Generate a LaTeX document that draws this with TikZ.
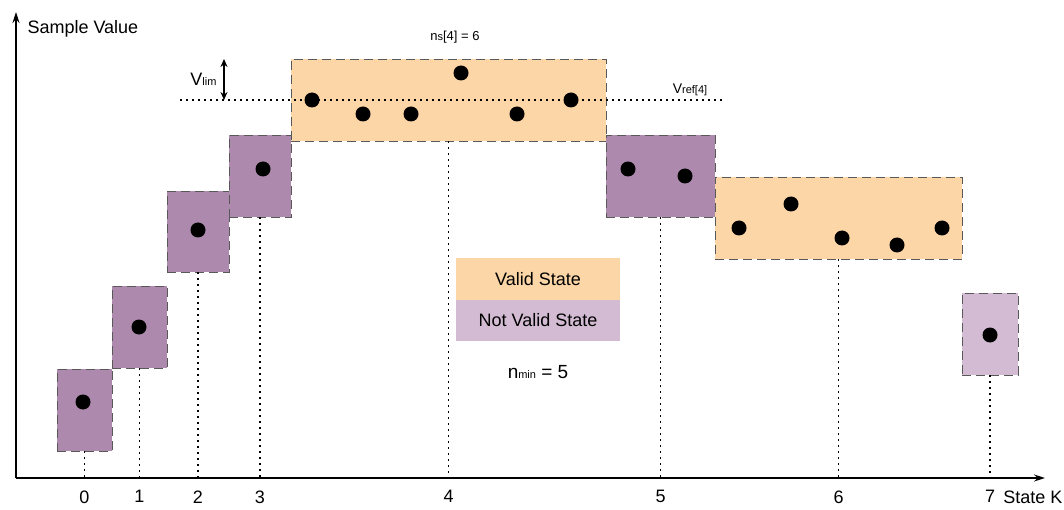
\documentclass[tikz,border=0pt]{standalone}
\usepackage{fontspec}
\setmainfont{Liberation Sans}
\usetikzlibrary{arrows.meta,positioning}

\definecolor{validfill}{HTML}{FCD6A6}
\definecolor{notvalidfill}{HTML}{AD89AD}
\definecolor{openfill}{HTML}{D3BCD3}
\newcommand{\lo}[1]{{\fontsize{11}{11}\selectfont #1}}

\begin{document}
\begin{tikzpicture}[x=1pt, y=-1pt,
    font=\fontsize{18}{21}\selectfont,
    statebox/.style={rectangle, draw=black!65, dash pattern=on 9pt off 5pt, inner sep=0pt},
    valid/.style={statebox, fill=validfill},
    notvalid/.style={statebox, fill=notvalidfill},
    open/.style={statebox, fill=openfill},
    legend/.style={rectangle, inner sep=0pt, minimum width=164pt, minimum height=41pt},
    dot/.style={circle, fill=black, inner sep=0pt, minimum size=15pt},
    guide/.style={dash pattern=on 2pt off 4pt, line width=1.1pt},
    axis/.style={-{Stealth[length=11pt,width=7pt]}, line width=1.4pt}
]
\useasboundingbox (0,0) rectangle (1064,510);

% Axes
\coordinate (o) at (16,478);
\coordinate (xend) at (1045,478);
\coordinate (yend) at (16,12);
\draw[axis] (o) -- (xend);
\draw[axis] (o) -- (yend);
\node[right] (ylabel) at (24,29) {Sample Value};
\node[left] (xlabel) at (1066,497) {State K};

% States
\node[notvalid, minimum width=55pt, minimum height=82pt] (box0) at (84.5,410) {};
\node[notvalid, minimum width=55pt, minimum height=82pt] (box1) at (139.5,327) {};
\node[notvalid, minimum width=62pt, minimum height=81pt] (box2) at (198,231.5) {};
\node[notvalid, minimum width=62pt, minimum height=82pt] (box3) at (260,176) {};
\node[valid, minimum width=315pt, minimum height=82pt] (box4) at (448.5,100) {};
\node[notvalid, minimum width=109pt, minimum height=82pt] (box5) at (660.5,176) {};
\node[valid, minimum width=247pt, minimum height=82pt] (box6) at (838.5,218) {};
\node[open, minimum width=56pt, minimum height=82pt] (box7) at (990,334) {};

% Guides and state numbers
\foreach \i in {0,...,7} {
  \draw[guide] (box\i.south) -- (box\i.south |- o);
  \node[below=9pt] (k\i) at (box\i.south |- o) {\i};
}

% Samples
\foreach \x/\y [count=\n] in {83/402, 139/327, 198/230, 263/169,
    312/100, 363/114, 411/114, 461/73, 517/114, 571/100,
    628/169, 685/176,
    739/228, 791/204, 842/238, 897/245, 942/228,
    990/335}
  \node[dot] (s\n) at (\x,\y) {};

% Reference value and limit
\coordinate (refL) at (180,100);
\coordinate (refR) at (722,100);
\draw[guide] (refL) -- (refR);
\coordinate (vtop) at (224,59);
\coordinate (vbot) at (224,100);
\draw[{Stealth[length=8pt,width=7pt]}-{Stealth[length=8pt,width=7pt]}, line width=1.2pt] (vtop) -- (vbot);
\node[left, font=\fontsize{18}{20}\selectfont] (vlim) at (220,79) {V\lo{lim}};
\node[font=\fontsize{14}{16}\selectfont] (vref) at (690,90) {V\lo{ref[4]}};
\node[font=\fontsize{13}{15}\selectfont] (ns) at (455,37) {n\lo{s}[4] = 6};

% Legend
\node[legend, fill=validfill] (lvalid) at (538,279) {Valid State};
\node[legend, fill=openfill, below=0pt of lvalid] (lnotvalid) {Not Valid State};
\node[font=\fontsize{19}{22}\selectfont] (nmin) at (538,372) {n\lo{min} = 5};

\end{tikzpicture}
\end{document}
